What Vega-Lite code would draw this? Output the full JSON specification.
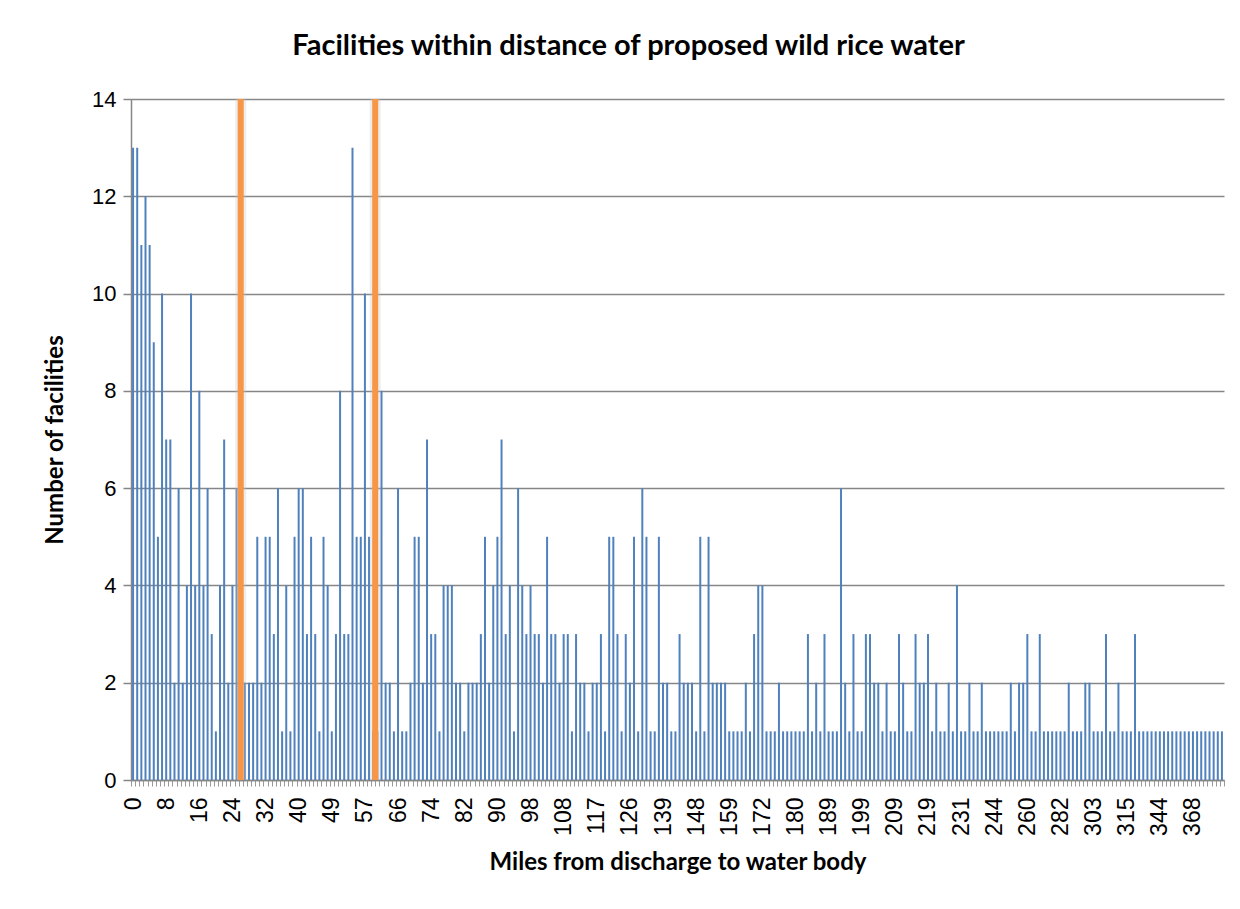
{
  "$schema": "https://vega.github.io/schema/vega-lite/v6.json",
  "autosize": {"type": "none"},
  "width": 1093,
  "height": 681,
  "padding": {"left": 131, "top": 99, "right": 16, "bottom": 129},
  "background": "white",
  "config": {"view": {"stroke": null}},
  "title": {
    "text": "Facilities within distance of proposed wild rice water",
    "font": "Lato", "fontSize": 29, "fontWeight": "bold", "color": "#000000",
    "anchor": "middle", "dx": -49, "offset": 27
  },
  "datasets": {
    "counts": [
      {"mile":"0","n":13},{"mile":"1","n":13},{"mile":"2","n":11},{"mile":"3","n":12},{"mile":"4","n":11},{"mile":"5","n":9},{"mile":"6","n":5},{"mile":"7","n":10},
      {"mile":"8","n":7},{"mile":"9","n":7},{"mile":"10","n":2},{"mile":"11","n":6},{"mile":"12","n":2},{"mile":"13","n":4},{"mile":"14","n":10},{"mile":"15","n":4},
      {"mile":"16","n":8},{"mile":"17","n":4},{"mile":"18","n":6},{"mile":"19","n":3},{"mile":"20","n":1},{"mile":"21","n":4},{"mile":"22","n":7},{"mile":"23","n":2},
      {"mile":"24","n":4},{"mile":"25","n":6},{"mile":"26","n":2},{"mile":"27","n":2},{"mile":"28","n":2},{"mile":"29","n":2},{"mile":"30","n":5},{"mile":"31","n":2},
      {"mile":"32","n":5},{"mile":"33","n":5},{"mile":"34","n":3},{"mile":"35","n":6},{"mile":"36","n":1},{"mile":"37","n":4},{"mile":"38","n":1},{"mile":"39","n":5},
      {"mile":"40","n":6},{"mile":"41","n":6},{"mile":"42","n":3},{"mile":"43","n":5},{"mile":"44","n":3},{"mile":"45","n":1},{"mile":"47","n":5},{"mile":"48","n":4},
      {"mile":"49","n":1},{"mile":"50","n":3},{"mile":"51","n":8},{"mile":"52","n":3},{"mile":"53","n":3},{"mile":"54","n":13},{"mile":"55","n":5},{"mile":"56","n":5},
      {"mile":"57","n":10},{"mile":"58","n":5},{"mile":"59","n":1},{"mile":"60","n":1},{"mile":"61","n":8},{"mile":"62","n":2},{"mile":"64","n":2},{"mile":"65","n":1},
      {"mile":"66","n":6},{"mile":"67","n":1},{"mile":"68","n":1},{"mile":"69","n":2},{"mile":"70","n":5},{"mile":"71","n":5},{"mile":"72","n":2},{"mile":"73","n":7},
      {"mile":"74","n":3},{"mile":"75","n":3},{"mile":"76","n":1},{"mile":"77","n":4},{"mile":"78","n":4},{"mile":"79","n":4},{"mile":"80","n":2},{"mile":"81","n":2},
      {"mile":"82","n":1},{"mile":"83","n":2},{"mile":"84","n":2},{"mile":"85","n":2},{"mile":"86","n":3},{"mile":"87","n":5},{"mile":"88","n":2},{"mile":"89","n":4},
      {"mile":"90","n":5},{"mile":"91","n":7},{"mile":"92","n":3},{"mile":"93","n":4},{"mile":"94","n":1},{"mile":"95","n":6},{"mile":"96","n":4},{"mile":"97","n":3},
      {"mile":"98","n":4},{"mile":"99","n":3},{"mile":"101","n":3},{"mile":"102","n":2},{"mile":"103","n":5},{"mile":"104","n":3},{"mile":"105","n":3},{"mile":"107","n":2},
      {"mile":"108","n":3},{"mile":"109","n":3},{"mile":"110","n":1},{"mile":"111","n":3},{"mile":"112","n":2},{"mile":"113","n":2},{"mile":"114","n":1},{"mile":"116","n":2},
      {"mile":"117","n":2},{"mile":"118","n":3},{"mile":"119","n":1},{"mile":"120","n":5},{"mile":"121","n":5},{"mile":"122","n":3},{"mile":"123","n":1},{"mile":"125","n":3},
      {"mile":"126","n":2},{"mile":"128","n":5},{"mile":"129","n":1},{"mile":"131","n":6},{"mile":"132","n":5},{"mile":"134","n":1},{"mile":"135","n":1},{"mile":"137","n":5},
      {"mile":"139","n":2},{"mile":"140","n":2},{"mile":"141","n":1},{"mile":"142","n":1},{"mile":"143","n":3},{"mile":"144","n":2},{"mile":"145","n":2},{"mile":"147","n":2},
      {"mile":"148","n":1},{"mile":"149","n":5},{"mile":"151","n":1},{"mile":"152","n":5},{"mile":"153","n":2},{"mile":"155","n":2},{"mile":"156","n":2},{"mile":"158","n":2},
      {"mile":"159","n":1},{"mile":"160","n":1},{"mile":"162","n":1},{"mile":"164","n":1},{"mile":"165","n":2},{"mile":"167","n":1},{"mile":"168","n":3},{"mile":"170","n":4},
      {"mile":"172","n":4},{"mile":"173","n":1},{"mile":"174","n":1},{"mile":"175","n":1},{"mile":"176","n":2},{"mile":"177","n":1},{"mile":"178","n":1},{"mile":"179","n":1},
      {"mile":"180","n":1},{"mile":"181","n":1},{"mile":"182","n":1},{"mile":"183","n":3},{"mile":"184","n":1},{"mile":"185","n":2},{"mile":"186","n":1},{"mile":"188","n":3},
      {"mile":"189","n":1},{"mile":"190","n":1},{"mile":"192","n":1},{"mile":"193","n":6},{"mile":"194","n":2},{"mile":"195","n":1},{"mile":"196","n":3},{"mile":"198","n":1},
      {"mile":"199","n":1},{"mile":"200","n":3},{"mile":"202","n":3},{"mile":"203","n":2},{"mile":"204","n":2},{"mile":"205","n":1},{"mile":"206","n":2},{"mile":"208","n":1},
      {"mile":"209","n":1},{"mile":"210","n":3},{"mile":"212","n":2},{"mile":"213","n":1},{"mile":"214","n":1},{"mile":"215","n":3},{"mile":"216","n":2},{"mile":"218","n":2},
      {"mile":"219","n":3},{"mile":"220","n":1},{"mile":"222","n":2},{"mile":"223","n":1},{"mile":"225","n":1},{"mile":"226","n":2},{"mile":"228","n":1},{"mile":"229","n":4},
      {"mile":"231","n":1},{"mile":"232","n":1},{"mile":"234","n":2},{"mile":"236","n":1},{"mile":"237","n":1},{"mile":"239","n":2},{"mile":"240","n":1},{"mile":"242","n":1},
      {"mile":"244","n":1},{"mile":"246","n":1},{"mile":"248","n":1},{"mile":"250","n":1},{"mile":"252","n":2},{"mile":"254","n":1},{"mile":"256","n":2},{"mile":"258","n":2},
      {"mile":"260","n":3},{"mile":"263","n":1},{"mile":"265","n":1},{"mile":"268","n":3},{"mile":"271","n":1},{"mile":"274","n":1},{"mile":"276","n":1},{"mile":"279","n":1},
      {"mile":"282","n":1},{"mile":"285","n":1},{"mile":"287","n":2},{"mile":"290","n":1},{"mile":"293","n":1},{"mile":"295","n":1},{"mile":"298","n":2},{"mile":"300","n":2},
      {"mile":"303","n":1},{"mile":"304","n":1},{"mile":"306","n":1},{"mile":"307","n":3},{"mile":"309","n":1},{"mile":"310","n":1},{"mile":"312","n":2},{"mile":"313","n":1},
      {"mile":"315","n":1},{"mile":"319","n":1},{"mile":"322","n":3},{"mile":"326","n":1},{"mile":"330","n":1},{"mile":"333","n":1},{"mile":"337","n":1},{"mile":"340","n":1},
      {"mile":"344","n":1},{"mile":"347","n":1},{"mile":"350","n":1},{"mile":"353","n":1},{"mile":"356","n":1},{"mile":"359","n":1},{"mile":"362","n":1},{"mile":"365","n":1},
      {"mile":"368","n":1},{"mile":"371","n":1},{"mile":"374","n":1},{"mile":"377","n":1},{"mile":"380","n":1},{"mile":"383","n":1},{"mile":"386","n":1},{"mile":"389","n":1}
    ],
    "markers": [
      {"mile":"26","n":14,"which":"a"},
      {"mile":"59","n":14,"which":"b"}
    ]
  },
  "encoding": {
    "x": {
      "field": "mile", "type": "nominal", "sort": null,
      "scale": {"paddingInner": 0, "paddingOuter": 0},
      "title": "Miles from discharge to water body",
      "axis": {
        "labelAngle": -90,
        "labelExpr": "indexof(['0','8','16','24','32','40','49','57','66','74','82','90','98','108','117','126','139','148','159','172','180','189','199','209','219','231','244','260','282','303','315','344','368'], datum.value) >= 0 ? datum.label : ''",
        "labelOverlap": false,
        "labelBound": false,
        "labelFont": "Liberation Sans", "labelFontSize": 23, "labelColor": "#000000", "labelPadding": 11,
        "tickBand": "extent", "tickSize": 6, "tickColor": "#9a9a9a", "tickWidth": 1,
        "domainColor": "#868686", "domainWidth": 1.5,
        "titleFont": "Lato", "titleFontSize": 24, "titleFontWeight": "bold", "titleColor": "#000000", "titlePadding": 15
      }
    },
    "y": {
      "field": "n", "type": "quantitative",
      "scale": {"domain": [0, 14], "nice": false},
      "title": "Number of facilities",
      "axis": {
        "values": [0, 2, 4, 6, 8, 10, 12, 14],
        "grid": true, "gridColor": "#868686", "gridWidth": 1.5,
        "domain": true, "domainColor": "#868686", "domainWidth": 1.5,
        "tickSize": 8, "tickColor": "#868686", "tickWidth": 1.5,
        "labelFont": "Liberation Sans", "labelFontSize": 22, "labelColor": "#000000", "labelPadding": 7,
        "titleFont": "Lato", "titleFontSize": 24, "titleFontWeight": "bold", "titleColor": "#000000", "titlePadding": 24
      }
    }
  },
  "layer": [
    {
      "data": {"name": "counts"},
      "mark": {"type": "bar", "size": 2, "color": "#4F81BD"}
    },
    {
      "data": {"name": "markers"},
      "transform": [{"filter": "datum.which == 'a'"}],
      "mark": {"type": "bar", "size": 11, "color": "#c4c4c4", "opacity": 0.3}
    },
    {
      "data": {"name": "markers"},
      "transform": [{"filter": "datum.which == 'a'"}],
      "mark": {"type": "bar", "size": 6, "color": "#F79646"}
    },
    {
      "data": {"name": "markers"},
      "transform": [{"filter": "datum.which == 'b'"}],
      "mark": {"type": "bar", "size": 11, "color": "#c4c4c4", "opacity": 0.3, "xOffset": 2}
    },
    {
      "data": {"name": "markers"},
      "transform": [{"filter": "datum.which == 'b'"}],
      "mark": {"type": "bar", "size": 6, "color": "#F79646", "xOffset": 2}
    }
  ]
}
